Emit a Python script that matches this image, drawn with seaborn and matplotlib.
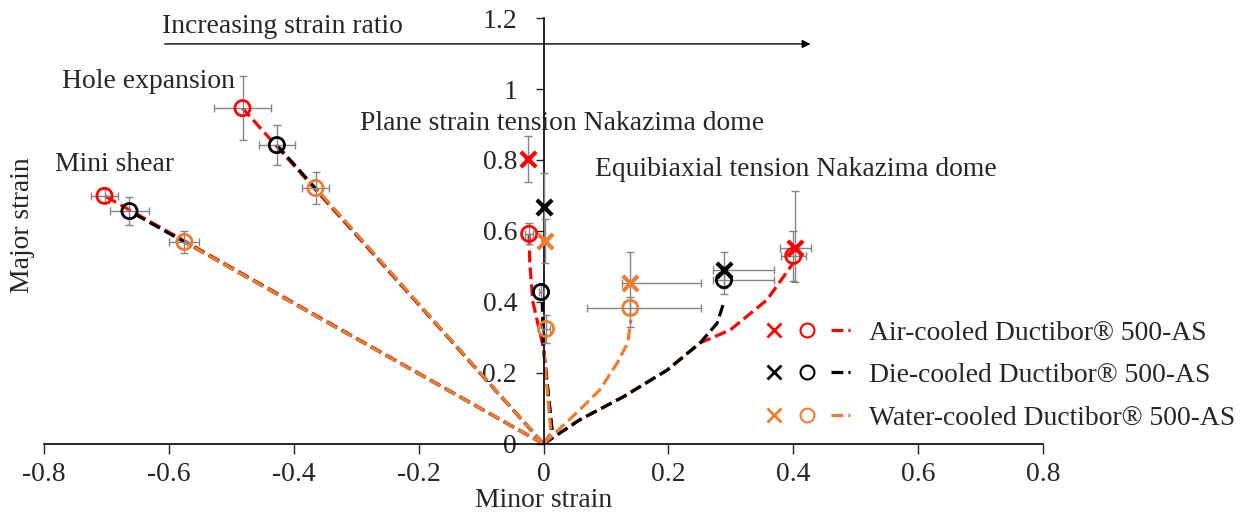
import matplotlib
matplotlib.use("Agg")
import matplotlib.pyplot as plt
from matplotlib.lines import Line2D
from matplotlib.legend_handler import HandlerTuple
import seaborn as sns
import pandas as pd

# fracture points (circles) and necking points (crosses)
air_o_x = [-0.703, -0.482, -0.023, 0.400]
air_o_y = [0.699, 0.946, 0.592, 0.530]
air_o_xerr = [[0.022, 0.046, 0.006, 0.020], [0.022, 0.046, 0.006, 0.020]]
air_o_yerr = [[0.020, 0.090, 0.030, 0.070], [0.020, 0.090, 0.030, 0.070]]
air_x_x = [-0.025, 0.403]
air_x_y = [0.803, 0.552]
air_x_xerr = [[0.004, 0.025], [0.004, 0.025]]
air_x_yerr = [[0.065, 0.095], [0.065, 0.160]]

die_o_x = [-0.663, -0.427, -0.004, 0.289]
die_o_y = [0.656, 0.842, 0.428, 0.462]
die_o_xerr = [[0.031, 0.029, 0.004, 0.018], [0.031, 0.029, 0.004, 0.080]]
die_o_yerr = [[0.040, 0.056, 0.020, 0.040], [0.040, 0.056, 0.020, 0.040]]
die_x_x = [0.000, 0.289]
die_x_y = [0.668, 0.490]
die_x_xerr = [[0.004, 0.018], [0.004, 0.080]]
die_x_yerr = [[0.095, 0.050], [0.095, 0.050]]

water_o_x = [-0.575, -0.365, 0.004, 0.139]
water_o_y = [0.569, 0.721, 0.324, 0.383]
water_o_xerr = [[0.024, 0.022, 0.006, 0.069], [0.024, 0.022, 0.006, 0.114]]
water_o_yerr = [[0.030, 0.045, 0.040, 0.053], [0.030, 0.045, 0.040, 0.030]]
water_x_x = [0.003, 0.139]
water_x_y = [0.572, 0.453]
water_x_xerr = [[0.004, 0.013], [0.004, 0.114]]
water_x_yerr = [[0.063, 0.088], [0.063, 0.088]]

# strain paths from the origin
air_paths = [
    ([0, -0.703], [0, 0.699]),
    ([0, -0.482], [0, 0.946]),
    ([0, 0.014, 0.0, -0.017, -0.022, -0.023], [0, 0.034, 0.27, 0.40, 0.51, 0.592]),
    ([0, 0.058, 0.128, 0.198, 0.251, 0.299, 0.358, 0.400], [0, 0.068, 0.133, 0.208, 0.285, 0.321, 0.406, 0.510]),
]
die_paths = [
    ([0, -0.663], [0, 0.656]),
    ([0, -0.427], [0, 0.842]),
    ([0, 0.014, 0.0, -0.002], [0, 0.034, 0.27, 0.40]),
    ([0, 0.058, 0.128, 0.198, 0.251, 0.278, 0.289], [0, 0.068, 0.133, 0.208, 0.285, 0.340, 0.400]),
]
water_paths = [
    ([0, -0.575], [0, 0.569]),
    ([0, -0.365], [0, 0.721]),
    ([0, 0.012, 0.0, 0.004], [0, 0.030, 0.27, 0.310]),
    ([0, 0.058, 0.090, 0.118, 0.135, 0.140], [0, 0.096, 0.152, 0.228, 0.285, 0.350]),
]

labels = ['Air-cooled Ductibor® 500-AS', 'Die-cooled Ductibor® 500-AS', 'Water-cooled Ductibor® 500-AS']
colors = ['#ff0000', '#000000', '#ed7d31']
x_ticks = [-0.8, -0.6, -0.4, -0.2, 0, 0.2, 0.4, 0.6, 0.8]
x_labels = ['-0.8', '-0.6', '-0.4', '-0.2', '0', '0.2', '0.4', '0.6', '0.8']
y_ticks = [0, 0.2, 0.4, 0.6, 0.8, 1, 1.2]
y_labels = ['0', '0.2', '0.4', '0.6', '0.8', '1', '1.2']

sns.set_style('white')
plt.rcParams['font.family'] = ['Liberation Serif', 'DejaVu Serif']
fs = 19.9

fig = plt.figure(figsize=(12.45, 5.15), dpi=100)
ax = fig.add_axes([0.0353, 0.138, 0.8025, 0.827])

groups = [
    (air_paths, air_o_x, air_o_y, air_o_xerr, air_o_yerr, air_x_x, air_x_y, air_x_xerr, air_x_yerr),
    (die_paths, die_o_x, die_o_y, die_o_xerr, die_o_yerr, die_x_x, die_x_y, die_x_xerr, die_x_yerr),
    (water_paths, water_o_x, water_o_y, water_o_xerr, water_o_yerr, water_x_x, water_x_y, water_x_xerr, water_x_yerr),
]

for (paths, ox, oy, oxe, oye, xx, xy, xxe, xye), c in zip(groups, colors):
    for px, py in paths:
        df = pd.DataFrame({'x': px, 'y': py})
        sns.lineplot(data=df, x='x', y='y', sort=False, estimator=None, color=c,
                     lw=2.3, linestyle='--', ax=ax, zorder=2)
    ax.errorbar(ox, oy, xerr=oxe, yerr=oye, fmt='none', ecolor='#858585', elinewidth=1, capsize=3, zorder=3)
    ax.errorbar(xx, xy, xerr=xxe, yerr=xye, fmt='none', ecolor='#858585', elinewidth=1, capsize=3, zorder=3)
    sns.scatterplot(x=ox, y=oy, marker='o', s=120, facecolors='none', edgecolor=c, linewidth=2, ax=ax, zorder=4)
    sns.scatterplot(x=xx, y=xy, marker='x', s=120, color=c, linewidth=3, ax=ax, zorder=4)

ax.set_xlim(-0.8, 0.8)
ax.set_ylim(0, 1.2)
ax.set_xticks(x_ticks)
ax.set_xticklabels(x_labels)
ax.set_yticks(y_ticks)
ax.set_yticklabels(y_labels)
ax.spines['left'].set_position(('data', 0))
ax.spines['bottom'].set_position(('data', 0))
ax.spines['top'].set_visible(False)
ax.spines['right'].set_visible(False)
for s in ['left', 'bottom']:
    ax.spines[s].set_color('black')
    ax.spines[s].set_linewidth(1.2)
ax.tick_params(axis='x', direction='out', length=7, width=1, pad=6, bottom=True, labelsize=fs)
ax.tick_params(axis='y', direction='out', length=6, width=1, pad=13, left=True, labelsize=fs)
ax.set_xlabel('Minor strain', fontsize=fs, labelpad=1)
ax.set_ylabel('')
fig.text(0.018, 0.563, 'Major strain', rotation=90, fontsize=fs, ha='center', va='center')

ax.text(-0.771, 1.02, 'Hole expansion', fontsize=fs, va='center')
ax.text(-0.783, 0.786, 'Mini shear', fontsize=fs, va='center')
ax.text(-0.294, 0.904, 'Plane strain tension Nakazima dome', fontsize=fs, va='center')
ax.text(0.083, 0.772, 'Equibiaxial tension Nakazima dome', fontsize=fs, va='center')
ax.text(-0.611, 1.175, 'Increasing strain ratio', fontsize=fs, va='center')
ax.annotate('', xy=(0.432, 1.127), xytext=(-0.611, 1.127),
            arrowprops=dict(arrowstyle='-|>', color='black', lw=1, mutation_scale=12), annotation_clip=False)

handles = []
for c in colors:
    handles.append((
        Line2D([], [], marker='x', color=c, ls='none', markersize=10, markeredgewidth=2),
        Line2D([], [], marker='o', color=c, mfc='none', ls='none', markersize=10, markeredgewidth=1.5),
        Line2D([], [], color=c, ls='--', lw=2.3),
    ))
fig.legend(handles, labels, handler_map={tuple: HandlerTuple(ndivide=None, pad=0.5)},
           loc='upper left', bbox_to_anchor=(0.614, 0.378), frameon=False, fontsize=fs,
           handlelength=3.1, labelspacing=0.62, handletextpad=0.7, borderpad=0, borderaxespad=0)

fig.savefig('out.png', dpi=100)
